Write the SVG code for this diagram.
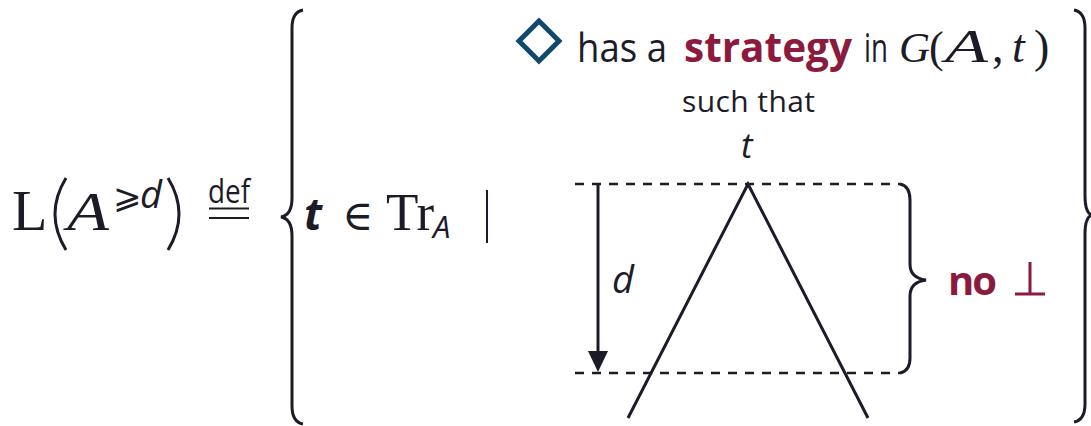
<svg xmlns="http://www.w3.org/2000/svg" width="1091" height="426" viewBox="0 0 1091 426">
<defs>
<style>
.ink{fill:#1c1c28}
.red{fill:#8c1a3e;font-weight:bold}
.sans{font-family:"Open Sans","DejaVu Sans",sans-serif}
.serif{font-family:"Liberation Serif","DejaVu Serif",serif}
.isans{font-family:"Open Sans","DejaVu Sans",sans-serif;font-style:italic}
.iserif{font-family:"Liberation Serif","DejaVu Serif",serif;font-style:italic}
.line{stroke:#1c1c28;stroke-width:3;fill:none}
.dash{stroke:#1c1c28;stroke-width:2.5;fill:none;stroke-dasharray:9 8}
</style>
</defs>
<rect width="1091" height="426" fill="#ffffff"/>

<g id="lhs">
<text x="12" y="230" class="ink serif" font-size="58">L</text>
<path class="line" d="M66,178 Q44,214 66,250"/>
<text x="67" y="230" class="ink iserif" font-size="54" textLength="42" lengthAdjust="spacingAndGlyphs">A</text>
<text x="113" y="208" class="ink" font-family="DejaVu Sans, sans-serif" font-size="34">⩾</text>
<text x="140" y="208" class="ink isans" font-size="38">d</text>
<path class="line" d="M168,178 Q190,214 168,250"/>
<text x="208" y="203" class="ink sans" font-size="32" textLength="42" lengthAdjust="spacingAndGlyphs">def</text>
<path d="M209,208.5 H249 M209,218 H249" stroke="#1c1c28" stroke-width="2.2"/>
</g>

<g id="set-brace-left">
<path class="line" d="M303,10 Q292,12 292,28 V198 Q292,215 281,217 Q292,219 292,236 V406 Q292,422 303,424"/>
</g>
<g id="set-brace-right">
<path class="line" d="M1074,10 Q1085,12 1085,28 V196 Q1085,213 1092,215 Q1085,217 1085,234 V404 Q1085,420 1074,422"/>
</g>

<g id="set-element">
<text x="304" y="230" class="ink isans" font-size="44" font-weight="bold">t</text>
<text x="342" y="230" class="ink serif" font-size="42">∈</text>
<text x="386" y="230" class="ink serif" font-size="53">Tr</text>
<text x="433" y="238" class="ink isans" font-size="31">A</text>
<path d="M487,190 V243" stroke="#1c1c28" stroke-width="2"/>
</g>

<g id="condition">
<path d="M539,21 L559,41 L539,61 L519,41 Z" fill="none" stroke="#10496b" stroke-width="5"/>
<text x="577" y="62" class="ink sans" font-size="41" textLength="90" lengthAdjust="spacingAndGlyphs">has a</text>
<text x="684" y="62" class="red sans" font-size="42" textLength="168" lengthAdjust="spacingAndGlyphs">strategy</text>
<text x="864" y="62" class="ink sans" font-size="40" textLength="24" lengthAdjust="spacingAndGlyphs">in</text>
<text x="899" y="62" class="ink iserif" font-size="43">G</text>
<text x="929" y="62" class="ink serif" font-size="44">(</text>
<text x="945" y="62" class="ink iserif" font-size="46" textLength="43" lengthAdjust="spacingAndGlyphs">A</text>
<text x="992" y="62" class="ink serif" font-size="46">,</text>
<text x="1012" y="62" class="ink iserif" font-size="46">t</text>
<text x="1034" y="62" class="ink serif" font-size="46">)</text>
<text x="682" y="112" class="ink sans" font-size="30" textLength="133">such that</text>
</g>

<g id="tree">
<text x="741" y="158" class="ink isans" font-size="35">t</text>
<path class="line" d="M628,418 L748,184 L868,418"/>
</g>

<g id="connectors">
<path class="dash" d="M575,184 H900"/>
<path class="dash" d="M575,373 H900"/>
<path d="M598,184 V356" stroke="#1c1c28" stroke-width="3"/>
<path d="M588,351 L598,372 L608,351 Z" fill="#1c1c28"/>
<text x="612" y="293" class="ink isans" font-size="38">d</text>
</g>

<g id="no-bottom">
<path class="line" d="M900,184 Q910,186 910,200 V264 Q910,278 926,280 Q910,282 910,296 V358 Q910,371 900,373"/>
<text x="948" y="295" class="red sans" font-size="40" textLength="49">no</text>
<path d="M1030,262 V294 M1015,294 H1045" stroke="#8c1a3e" stroke-width="3" fill="none"/>
</g>
</svg>
